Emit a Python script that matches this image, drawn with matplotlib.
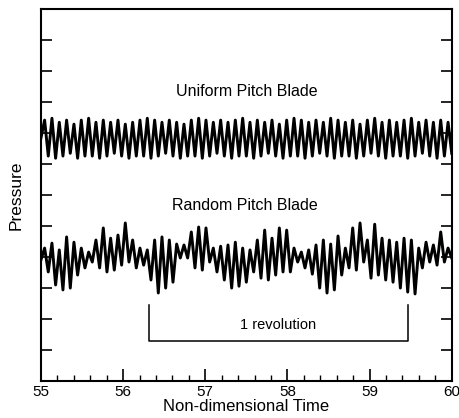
import matplotlib
matplotlib.use('Agg')
import matplotlib.pyplot as plt
import numpy as np

plt.rcParams['font.family'] = ['Liberation Sans', 'DejaVu Sans']

# Uniform pitch blade: peak / trough per blade passage
uniform_peaks = [8.42, 8.48, 8.35, 8.42, 8.29, 8.42, 8.48, 8.35, 8.42, 8.35,
                 8.42, 8.29, 8.35, 8.42, 8.48, 8.42, 8.35, 8.42, 8.35, 8.29,
                 8.42, 8.48, 8.42, 8.35, 8.42, 8.35, 8.42, 8.48, 8.35, 8.42,
                 8.35, 8.42, 8.29, 8.42, 8.48, 8.42, 8.35, 8.42, 8.35, 8.48,
                 8.42, 8.35, 8.42, 8.29, 8.42, 8.48, 8.35, 8.42, 8.35, 8.42,
                 8.48, 8.35, 8.42, 8.35, 8.42, 8.35]
uniform_troughs = [7.26, 7.19, 7.26, 7.35, 7.19, 7.26, 7.26, 7.19, 7.26, 7.35,
                   7.26, 7.19, 7.26, 7.26, 7.19, 7.26, 7.35, 7.26, 7.19, 7.26,
                   7.26, 7.19, 7.26, 7.35, 7.26, 7.19, 7.26, 7.26, 7.19, 7.26,
                   7.35, 7.26, 7.19, 7.26, 7.26, 7.19, 7.26, 7.35, 7.26, 7.19,
                   7.26, 7.26, 7.19, 7.26, 7.35, 7.26, 7.19, 7.26, 7.26, 7.19,
                   7.26, 7.35, 7.26, 7.19, 7.26, 7.35]

# Random pitch blade: peak / trough per passage
random_peaks = [4.29, 4.45, 4.23, 4.65, 4.48, 4.29, 4.16, 4.55, 4.94, 4.61,
                4.71, 5.10, 4.55, 4.29, 4.23, 4.55, 4.65, 4.55, 4.42, 4.39,
                4.81, 4.97, 4.94, 4.29, 4.35, 4.39, 4.48, 4.29, 4.23, 4.55,
                4.87, 4.61, 4.94, 4.87, 4.29, 4.16, 4.23, 4.39, 4.55, 4.42,
                4.68, 4.29, 4.94, 5.10, 4.55, 5.06, 4.61, 4.55, 4.48, 4.61,
                4.55, 4.29, 4.48, 4.39, 4.81, 4.29]
random_troughs = [3.52, 3.10, 2.94, 3.00, 3.42, 3.65, 3.84, 3.65, 3.52, 3.58,
                  3.74, 3.84, 3.65, 3.74, 3.26, 2.84, 3.00, 3.19, 3.97, 3.97,
                  3.65, 3.58, 3.84, 3.52, 3.26, 3.00, 3.06, 3.19, 3.52, 3.32,
                  3.26, 3.42, 3.52, 3.52, 3.84, 3.65, 3.45, 3.00, 2.84, 2.94,
                  3.42, 3.65, 3.58, 3.84, 3.32, 3.42, 3.26, 3.19, 3.00, 2.87,
                  2.81, 3.65, 3.84, 3.74, 3.84, 3.97]

t_start, t_end = 55.0, 60.0
revolution = [56.31, 59.47]
x_ticks = [55, 56, 57, 58, 59, 60]


def waveform(peaks, troughs):
    vals = [(peaks[0] + troughs[0]) / 2]
    for p, q in zip(peaks, troughs):
        vals += [p, q]
    t = np.linspace(t_start, t_end, len(vals))
    return t, vals


fig = plt.figure(figsize=(4.6, 4.18), dpi=100)
ax = fig.add_axes([0.089, 0.0885, 0.893, 0.8895])

t, u = waveform(uniform_peaks, uniform_troughs)
ax.plot(t, u, color='black', lw=2.1)
t, r = waveform(random_peaks, random_troughs)
ax.plot(t, r, color='black', lw=2.1)

ax.text(57.5, 9.35, 'Uniform Pitch Blade', ha='center', va='center', fontsize=11.5)
ax.text(57.48, 5.68, 'Random Pitch Blade', ha='center', va='center', fontsize=11.5)

# 1 revolution bracket
ax.plot([revolution[0], revolution[0], revolution[1], revolution[1]],
        [2.45, 1.29, 1.29, 2.45], color='black', lw=1.1)
ax.text(sum(revolution) / 2, 1.81, '1 revolution', ha='center', va='center', fontsize=10.5)

ax.set_xlim(t_start, t_end)
ax.set_ylim(0, 12)
ax.set_xticks(x_ticks)
ax.set_xticks(np.arange(55, 60.01, 0.2), minor=True)
ax.set_yticks(range(0, 13))
ax.set_yticklabels([])
ax.tick_params(axis='x', which='major', direction='in', length=9, width=1.2, labelsize=11, pad=3)
ax.tick_params(axis='x', which='minor', direction='in', length=4, width=1.0)
ax.tick_params(axis='y', direction='in', length=8, width=1.2, left=True, right=True)
for s in ax.spines.values():
    s.set_linewidth(1.5)

ax.set_xlabel('Non-dimensional Time', fontsize=12, labelpad=0)
ax.set_ylabel('Pressure', fontsize=12.5, labelpad=9)

fig.savefig('out.png', dpi=100)
